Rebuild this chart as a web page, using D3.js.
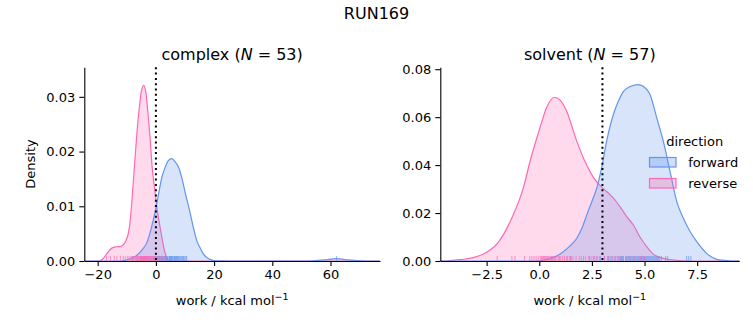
<!DOCTYPE html>
<html>
<head>
<meta charset="utf-8">
<script src="https://cdn.jsdelivr.net/npm/d3@7"></script>
<style>
  body { margin: 0; background: #fff; }
  svg { display: block; font-family: "DejaVu Sans", sans-serif; }
</style>
</head>
<body>
<svg id="vis" width="753" height="325"></svg>
<script>
// data

const suptitle = "RUN169";
const directions = ["forward", "reverse"];
const dirColors = ["#6495ED", "#FF69B4"];

// complex leg, N = 53 : kde curves as [work, density]
const complexForwardKde = [
  [-24.6, 0], [-12, 0], [-10, 0.0002], [-8, 0.0006], [-6.4, 0.0011], [-4.5, 0.0022],
  [-3, 0.0035], [-1.5, 0.0062], [-0.1, 0.0094], [1, 0.0125], [2, 0.0152], [3.1, 0.017],
  [4.2, 0.0183], [5.4, 0.0187], [6.5, 0.0182], [7.9, 0.017], [9, 0.015], [10.2, 0.0122],
  [11.5, 0.0094], [12.8, 0.0063], [14.2, 0.0035], [15.1, 0.0025], [16.3, 0.0013],
  [17.6, 0.0006], [19, 0.0002], [21, 0.00003], [25, 0], [50, 0], [54, 0.00004],
  [58, 0.0002], [62, 0.00045], [66, 0.0002], [70, 0.00004], [74, 0], [77, 0]
];
const complexReverseKde = [
  [-24.6, 0], [-19.5, 0], [-18, 0.0005], [-16.5, 0.0016], [-15, 0.0024], [-13.5, 0.0026],
  [-12, 0.0027], [-11, 0.0031], [-10.4, 0.0036], [-9.5, 0.005], [-9, 0.0066], [-8.3, 0.0105],
  [-7.6, 0.0157], [-6.5, 0.0235], [-5.7, 0.028], [-5, 0.031], [-4.2, 0.0321], [-3.5, 0.031],
  [-2.9, 0.028], [-2, 0.0225], [-1.3, 0.0172], [-0.5, 0.0135], [0, 0.0112], [1, 0.0075],
  [1.5, 0.006], [2, 0.0045], [2.7, 0.0025], [3.5, 0.0009], [4.2, 0.0002], [5, 0], [77, 0]
];
const complexForwardWork = [
  -8.1, -6.4, -5.2, -4.1, -3.3, -2.6, -2.1, -1.4, -0.9, -0.5, -0.1, 0.3, 0.8, 1.1, 1.5,
  1.8, 2.3, 2.6, 2.9, 3.2, 3.6, 3.8, 4.1, 4.5, 4.7, 5.0, 5.3, 5.6, 5.9, 6.2, 6.4, 6.8,
  7.1, 7.3, 7.7, 8.0, 8.3, 8.6, 8.9, 9.2, 9.5, 9.9, 10.3, 10.6, 3.4, 4.9, 6.6, 2.0, 1.3,
  5.4, 7.5, 0.6, 62.1
];
const complexReverseWork = [
  -17.0, -15.6, -14.3, -13.4, -12.2, -11.2, -10.5, -9.7, -9.2, -8.6, -8.1, -7.7, -7.3,
  -7.0, -6.7, -6.4, -6.1, -5.9, -5.6, -5.4, -5.2, -5.0, -4.8, -4.6, -4.4, -4.3, -4.1,
  -3.9, -3.8, -3.6, -3.4, -3.3, -3.1, -2.9, -2.7, -2.5, -2.3, -2.1, -1.8, -1.6, -1.3,
  -1.0, -0.7, -0.4, -0.1, 0.3, 0.7, 1.2, 1.8, 2.4, 3.1, -4.9, -3.7
];

// solvent leg, N = 57
const solventForwardKde = [
  [-4.7, 0], [-0.2, 0], [0.2, 0.0004], [0.51, 0.0011], [0.85, 0.0022], [1.14, 0.0039],
  [1.45, 0.0062], [1.78, 0.0095], [2.05, 0.0142], [2.33, 0.021], [2.55, 0.026],
  [2.73, 0.0304], [2.96, 0.0388], [3.2, 0.05], [3.52, 0.0611], [3.75, 0.0665], [4.0, 0.0708],
  [4.35, 0.0729], [4.7, 0.0736], [5.0, 0.0725], [5.26, 0.0695], [5.58, 0.0597],
  [5.89, 0.05], [6.21, 0.0374], [6.53, 0.0248], [6.84, 0.0179], [7.16, 0.0123],
  [7.48, 0.0081], [7.95, 0.0032], [8.43, 0.0007], [9.0, 0.0001], [9.3, 0], [9.5, 0]
];
const solventReverseKde = [
  [-4.7, 0], [-4.4, 0], [-4.1, 0.0003], [-3.6, 0.0007], [-3.14, 0.0014], [-2.7, 0.0027],
  [-2.34, 0.0046], [-2.0, 0.0072], [-1.71, 0.0109], [-1.24, 0.0192], [-0.76, 0.0304],
  [-0.44, 0.0415], [0.03, 0.0555], [0.35, 0.064], [0.71, 0.0683], [1.0, 0.067],
  [1.3, 0.0625], [1.78, 0.05], [2.25, 0.04], [2.6, 0.0345], [3.0, 0.0305], [3.2, 0.029],
  [3.52, 0.0262], [3.83, 0.0227], [4.2, 0.018], [4.47, 0.015], [4.8, 0.0098], [5.1, 0.006],
  [5.42, 0.0028], [5.9, 0.0011], [6.5, 0.0003], [7.2, 0], [9.5, 0]
];
const solventForwardWork = [
  0.6, 1.5, 2.4, 2.6, 2.9, 3.1, 3.3, 3.4, 3.6, 3.7, 3.8, 3.9, 4.0, 4.1, 4.2, 4.3, 4.35,
  4.45, 4.5, 4.6, 4.65, 4.7, 4.8, 4.85, 4.9, 5.0, 5.05, 5.1, 5.2, 5.25, 5.3, 5.4, 5.5,
  5.55, 5.6, 5.7, 5.8, 3.5, 4.15, 4.55, 4.75, 4.95, 5.15, 5.35, 3.95, 4.4, 2.75, 3.25,
  5.65, 6.0, 6.1, 7.0, 7.1, 7.2, 4.25, 5.45, 3.85
];
const solventReverseWork = [
  -2.0, -1.3, -1.15, -0.7, -0.45, -0.35, -0.15, -0.05, 0.05, 0.1, 0.2, 0.25, 0.35, 0.4,
  0.5, 0.55, 0.65, 0.7, 0.8, 0.9, 1.0, 1.1, 1.2, 1.35, 1.5, 1.6, 1.75, 1.9, 2.0, 2.2,
  2.35, 2.5, 2.7, 2.85, 3.3, 3.45, 3.6, 3.9, 4.1, 4.5, 5.0, 5.6, 0.3, 0.45, 0.6, 0.75,
  0.95, 1.3, 1.45, 2.1, 2.6, 3.1, 3.75, 4.3, 4.8, -0.25, 0.15
];

const complexXTicks = [-20, 0, 20, 40, 60];
const complexYTicks = [0, 0.01, 0.02, 0.03];
const solventXTicks = [-2.5, 0, 2.5, 5, 7.5];
const solventYTicks = [0, 0.02, 0.04, 0.06, 0.08];

const svg = d3.select("#vis");

svg.append("text")
  .attr("x", 376.5)
  .attr("y", 19)
  .attr("text-anchor", "middle")
  .attr("font-size", "16px")
  .text(suptitle);

function drawPanel(p) {
  const x = d3.scaleLinear().domain(p.xDomain).range([p.left, p.right]);
  const y = d3.scaleLinear().domain(p.yDomain).range([261, 67.3]);
  const g = svg.append("g");

  const area = d3.area()
    .x(d => x(d[0])).y0(y(0)).y1(d => y(d[1]))
    .curve(d3.curveMonotoneX);
  const line = d3.line()
    .x(d => x(d[0])).y(d => y(d[1]))
    .curve(d3.curveMonotoneX);

  // reverse first, forward on top (seaborn draws hue levels backwards)
  const layers = [
    { kde: p.reverseKde, color: dirColors[1] },
    { kde: p.forwardKde, color: dirColors[0] }
  ];
  layers.forEach(l => {
    g.append("path").attr("d", area(l.kde))
      .attr("fill", l.color).attr("fill-opacity", 0.25);
    g.append("path").attr("d", line(l.kde))
      .attr("fill", "none").attr("stroke", l.color).attr("stroke-width", 1.2);
  });

  // rug
  [[p.forwardWork, dirColors[0]], [p.reverseWork, dirColors[1]]].forEach(([vals, c]) => {
    g.selectAll(null).data(vals).enter().append("line")
      .attr("x1", d => x(d)).attr("x2", d => x(d))
      .attr("y1", y(0)).attr("y2", y(0) - 5)
      .attr("stroke", c).attr("stroke-width", 1).attr("stroke-opacity", 0.7);
  });

  // dotted reference line
  g.append("line")
    .attr("x1", x(p.refLine)).attr("x2", x(p.refLine))
    .attr("y1", y.range()[1]).attr("y2", y.range()[0])
    .attr("stroke", "#000").attr("stroke-width", 2)
    .attr("stroke-dasharray", "2,3.3");

  const xAxis = g.append("g")
    .attr("transform", `translate(0,${y(0)})`)
    .call(d3.axisBottom(x).tickValues(p.xTicks).tickFormat(d3.format(p.xFmt))
      .tickSizeInner(5).tickSizeOuter(0).tickPadding(4));
  const yAxis = g.append("g")
    .attr("transform", `translate(${p.left},0)`)
    .call(d3.axisLeft(y).tickValues(p.yTicks).tickFormat(d3.format(".2f"))
      .tickSizeInner(5).tickSizeOuter(0).tickPadding(4));
  [xAxis, yAxis].forEach(a => {
    a.attr("font-family", "DejaVu Sans").attr("font-size", "13px");
    a.selectAll("path, line").attr("stroke", "#000").attr("stroke-width", 1.1);
    a.selectAll("text").attr("fill", "#000");
  });

  const cx = (p.left + p.right) / 2;
  const title = g.append("text")
    .attr("x", cx).attr("y", 60)
    .attr("text-anchor", "middle").attr("font-size", "16px");
  title.append("tspan").text(p.name + " (");
  title.append("tspan").attr("font-style", "italic").text("N");
  title.append("tspan").text(" = " + p.n + ")");

  const xl = g.append("text")
    .attr("x", cx).attr("y", 305)
    .attr("text-anchor", "middle").attr("font-size", "13px");
  xl.append("tspan").text("work / kcal mol");
  xl.append("tspan").attr("font-size", "9.5px").attr("dy", -5).text("\u22121");

  if (p.yLabel) {
    g.append("text")
      .attr("transform", `translate(35,164) rotate(-90)`)
      .attr("text-anchor", "middle").attr("font-size", "13px")
      .text(p.yLabel);
  }
}

drawPanel({
  name: "complex", n: 53, left: 84.3, right: 380,
  xDomain: [-24.6, 77.0], yDomain: [0, 0.0354],
  forwardKde: complexForwardKde, reverseKde: complexReverseKde,
  forwardWork: complexForwardWork, reverseWork: complexReverseWork,
  xTicks: complexXTicks, yTicks: complexYTicks, xFmt: "d",
  refLine: 0, yLabel: "Density"
});

drawPanel({
  name: "solvent", n: 57, left: 440.3, right: 739.3,
  xDomain: [-4.70, 9.50], yDomain: [0, 0.0808],
  forwardKde: solventForwardKde, reverseKde: solventReverseKde,
  forwardWork: solventForwardWork, reverseWork: solventReverseWork,
  xTicks: solventXTicks, yTicks: solventYTicks, xFmt: ".1f",
  refLine: 3, yLabel: null
});

// legend
const legend = svg.append("g").attr("font-size", "13px");
legend.append("text")
  .attr("x", 694.7).attr("y", 145.7)
  .attr("text-anchor", "middle")
  .text("direction");
directions.forEach((dname, i) => {
  const yy = 157.5 + i * 21;
  legend.append("rect")
    .attr("x", 649.5).attr("y", yy)
    .attr("width", 26.5).attr("height", 9.5)
    .attr("fill", dirColors[i]).attr("fill-opacity", 0.3)
    .attr("stroke", dirColors[i]).attr("stroke-width", 1.2);
  legend.append("text")
    .attr("x", 688.3).attr("y", yy + 9)
    .text(dname);
});
</script>
</body>
</html>
